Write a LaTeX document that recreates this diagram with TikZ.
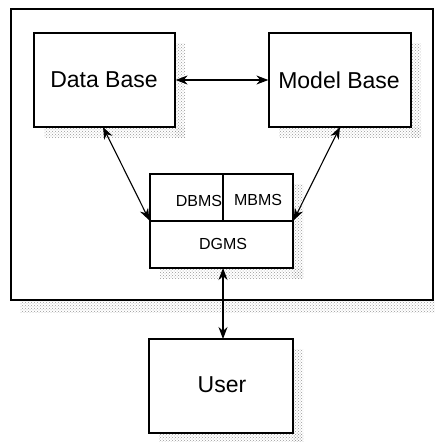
\documentclass[tikz,border=0pt]{standalone}
\usepackage{fontspec}
\setmainfont{Liberation Sans}
\usetikzlibrary{arrows.meta,patterns}
\begin{document}
\begin{tikzpicture}[x=1pt,y=-1pt,
  box/.style={draw=black,line width=1.2pt,fill=white,rectangle,inner sep=0pt},
  shade/.style={pattern=crosshatch dots,pattern color=gray!80,draw=none},
  big/.style={font=\fontsize{23}{26}\selectfont},
  small/.style={font=\fontsize{16}{18}\selectfont},
  link/.style={line width=1.1pt,{Stealth[length=12pt,width=9pt]}-{Stealth[length=12pt,width=9pt]}}]
\useasboundingbox (0,0) rectangle (435,442);
% outer frame
\fill[shade] (20,300) rectangle (435,312);
\node[box,minimum width=422pt,minimum height=291pt] (frame) at (222,154.5) {};
% shadows
\fill[shade] (175,43) rectangle (185,137);
\fill[shade] (44,127) rectangle (185,137);
\fill[shade] (411,43) rectangle (421,137);
\fill[shade] (279,127) rectangle (421,137);
\fill[shade] (293,184) rectangle (303,278);
\fill[shade] (160,268) rectangle (303,278);
\fill[shade] (293,349) rectangle (303,442);
\fill[shade] (159,433) rectangle (303,442);
% boxes
\node[box,minimum width=141pt,minimum height=94pt] (db) at (104.5,80) {};
\node[box,minimum width=142pt,minimum height=94pt] (mb) at (340,80) {};
\node[box,minimum width=73pt,minimum height=47pt] (dbms) at (186.5,197.5) {};
\node[box,minimum width=70pt,minimum height=47pt] (mbms) at (258,197.5) {};
\node[box,minimum width=143pt,minimum height=47pt] (dgms) at (221.5,244.5) {};
\node[box,minimum width=144pt,minimum height=94pt] (user) at (221,386) {};
% labels
\node[big] (dbl) at (104,80) {Data Base};
\node[big] (mbl) at (339,80) {Model Base};
\node[small] (dbmsl) at (199,201) {DBMS};
\node[small] (mbmsl) at (258,200) {MBMS};
\node[small] (dgmsl) at (223,244) {DGMS};
\node[big] (userl) at (222,385) {User};
% connectors
\coordinate (dbb) at (103,127);
\coordinate (mbb) at (340,127);
\coordinate (dgu) at (223,268);
\coordinate (usu) at (223,339);
\draw[link] (db.east) -- (mb.west);
\draw[link] (dbb) -- (dgms.north west);
\draw[link] (mbb) -- (dgms.north east);
\draw[link] (dgu) -- (usu);
\end{tikzpicture}
\end{document}
